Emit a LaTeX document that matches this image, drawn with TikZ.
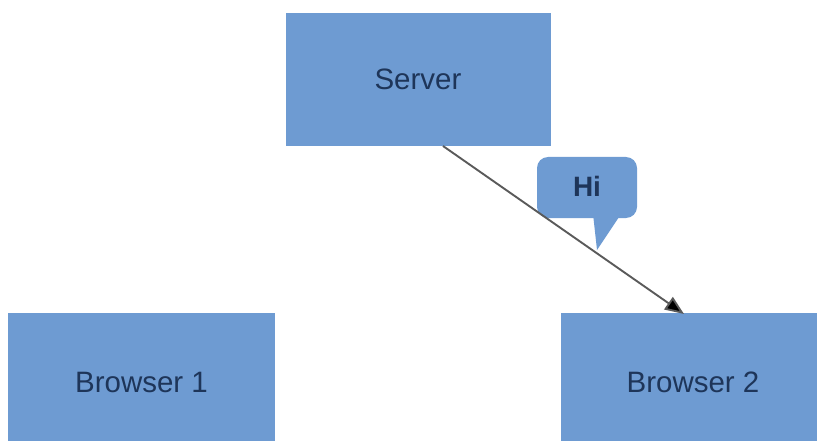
\documentclass[tikz,border=0pt]{standalone}
\usepackage{fontspec}
\setmainfont{Liberation Sans}
\usetikzlibrary{arrows.meta}
\definecolor{boxblue}{HTML}{6E9BD2}
\definecolor{boxtext}{HTML}{1E3559}
\definecolor{wire}{HTML}{5A5A5A}
\begin{document}
\begin{tikzpicture}[x=1pt,y=-1pt,
  box/.style={fill=boxblue, draw=none, text=boxtext, inner sep=0pt,
    font=\fontsize{29.5}{33}\selectfont},
  bubble/.style={fill=boxblue, draw=none, rounded corners=11pt, text=boxtext,
    inner sep=0pt, font=\fontsize{28}{31}\selectfont\bfseries},
  link/.style={draw=wire, line width=1.9pt,
    -{Triangle[length=19pt,width=15pt,fill=black]}}]
  \useasboundingbox (0,0) rectangle (817,441);
  \node[box, minimum width=265pt, minimum height=133pt] (server) at (418,79.5) {Server};
  \node[box, minimum width=267pt, minimum height=138pt] (b1) at (141.5,382) {Browser 1};
  \node[box, minimum width=264pt, minimum height=138pt] (b2) at (693,382) {Browser 2};
  % speech bubble with its tail
  \node[bubble, minimum width=100pt, minimum height=61pt] (hi) at (587,187.5) {\raisebox{2pt}{Hi}};
  \coordinate (tailtip) at (597,250);
  \fill[boxblue] (593,214) -- (tailtip) -- (621,214) -- cycle;
  \coordinate (start) at (443,146);
  \coordinate (end) at (684,314);
  \draw[link] (start) -- (end);
\end{tikzpicture}
\end{document}
